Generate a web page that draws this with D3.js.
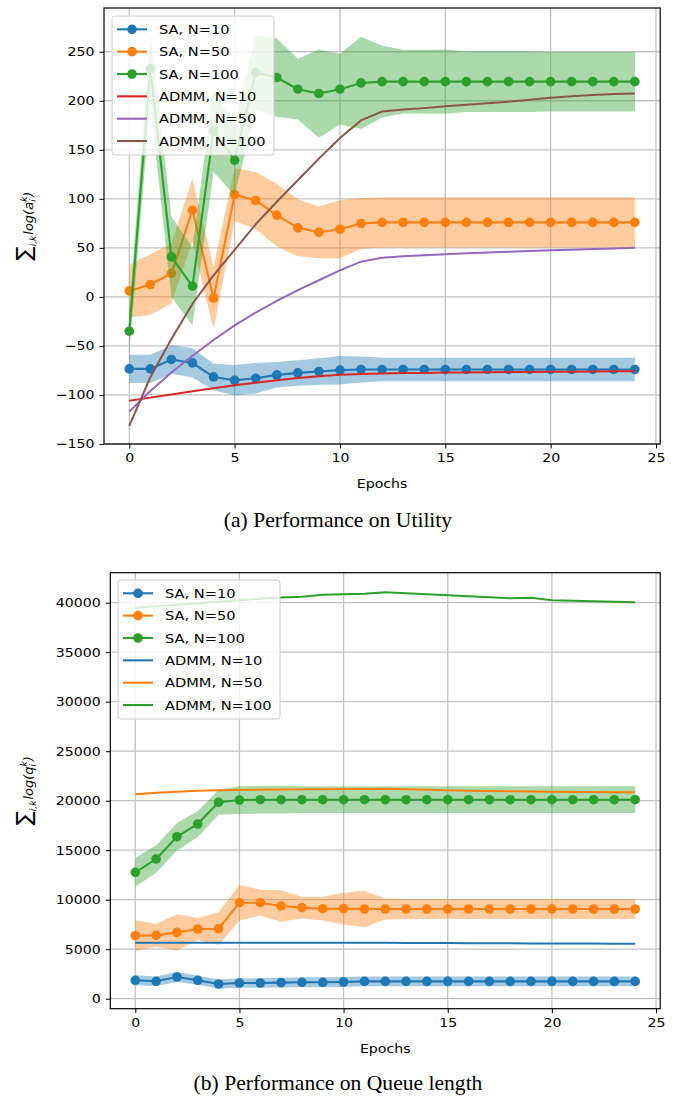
<!DOCTYPE html>
<html>
<head>
<meta charset="utf-8">
<script src="https://cdn.jsdelivr.net/npm/d3@7"></script>
<style>
  body { margin: 0; background: #fff; }
  svg { display: block; }
  .tick text { font-family: "DejaVu Sans", sans-serif; font-size: 12.3px; fill: #000; }
</style>
</head>
<body>
<svg id="chart" width="677" height="1096"></svg>
<script>
// epochs on the x axis
const epochs = [0,1,2,3,4,5,6,7,8,9,10,11,12,13,14,15,16,17,18,19,20,21,22,23,24];

// (a) utility
const utilSA10   = [-73.4,-73.4,-63.8,-67.3,-81.6,-85,-83,-79.5,-77.5,-76,-74.7,-74,-74,-74,-74,-74,-74,-74,-74,-74,-74,-74,-74,-74,-74];
const utilSA10Sd = [14.5,14.5,14.5,15,13.5,15.5,15.5,13,13,13.5,14.5,13.3,12,12,12,12,12,12,12,12,12,12,12,12,12];
const utilSA50   = [6.1,12.6,23.9,88.4,-1.3,104.4,98.3,83.3,70.4,66,69,74.8,76,76,76,76,76,76,76,76,76,76,76,76,76];
const utilSA50Sd = [27,31,30.6,32,32,27,29,32,29,26.5,29.5,26,25.5,25.5,25.5,25.5,25.5,25.5,25.5,25.5,25.5,25.5,25.5,25.5,25.5];
const utilSA100   = [-35,232.8,40.8,10.9,169.3,139.4,228.8,223.7,211.8,207.4,211.8,218.2,219.5,219.5,219.5,219.5,219.5,219.5,219.5,219.5,219.5,219.5,219.5,219.5,219.5];
const utilSA100Sd = [22,36,41,40,42,36,38,40,31,45,36,47,36.5,32.5,32.5,32.7,31,31,31,31,30.5,30.5,30.5,30.5,30.5];
const utilADMM10  = [-106,-102.7,-99.5,-96.3,-93.2,-90.2,-87.5,-85,-82.8,-81,-79.5,-78.5,-78,-77.7,-77.5,-77.2,-77,-76.8,-76.7,-76.5,-76.4,-76.2,-76.1,-75.9,-75.8];
const utilADMM50  = [-117,-96,-77,-60,-44,-29,-16,-4,7,17,27,36,40,41.5,42.5,43.5,44.5,45.3,46,46.8,47.5,48.2,48.8,49.4,50];
const utilADMM100 = [-131.5,-82,-43,-7,22,48,74,97,119,141,162,180,189,191,192.5,194.4,196,197.5,199,201,203,204.5,206,207,207.5];
const utilTicks = [-150,-100,-50,0,50,100,150,200,250];

// (b) queue length
const queueSA10   = [1858,1757,2192,1858,1485,1586,1586,1620,1655,1655,1687,1750,1750,1750,1750,1750,1750,1750,1750,1750,1750,1750,1750,1750,1750];
const queueSA10Sd = [500,480,500,450,450,480,480,500,500,500,500,500,500,500,500,500,500,500,500,500,500,500,500,500,500];
const queueSA50   = [6363,6397,6700,7040,7070,9696,9696,9363,9191,9090,9090,9060,9060,9060,9060,9060,9060,9060,9060,9060,9060,9060,9060,9060,9060];
const queueSA50Sd = [1550,1150,1830,1100,1650,1800,1300,1580,1100,1200,1600,1850,1050,1000,1000,1000,1000,1000,1000,1000,1000,1000,1000,1000,1000];
const queueSA100   = [12766,14110,16362,17645,19836,20069,20100,20100,20100,20100,20100,20100,20100,20100,20100,20100,20100,20100,20100,20100,20100,20100,20100,20100,20100];
const queueSA100Sd = [1450,1380,1380,1300,1260,1400,1400,1400,1350,1350,1350,1350,1350,1350,1350,1350,1350,1350,1350,1350,1350,1350,1350,1350,1350];
const queueADMM10  = [5650,5650,5650,5650,5650,5650,5650,5650,5650,5650,5650,5650,5640,5630,5620,5620,5610,5600,5590,5580,5580,5570,5570,5560,5560];
const queueADMM50  = [20650,20800,20900,21000,21050,21080,21100,21120,21150,21160,21170,21180,21200,21150,21100,21050,21000,20980,20950,20920,20900,20880,20870,20860,20850];
const queueADMM100 = [39500,39650,39800,39950,40100,40250,40400,40520,40600,40800,40850,40900,41050,40950,40850,40750,40650,40550,40450,40500,40250,40200,40150,40100,40050];
const queueTicks = [0,5000,10000,15000,20000,25000,30000,35000,40000];

const xTicks = [0,5,10,15,20,25];

const C = {blue:'#1f77b4', orange:'#ff7f0e', green:'#2ca02c', red:'#d62728', purple:'#9467bd', brown:'#8c564b'};
const SANS = '"DejaVu Sans", sans-serif';
const STRETCH = 1.15; // reference text is drawn wider than DejaVu

const svg = d3.select('#chart');

// move x/y of an axis label into a transform so it can be widened
function widen(sel) {
  sel.each(function() {
    const t = d3.select(this);
    const x = +t.attr('x') || 0;
    t.attr('x', 0).attr('transform', `translate(${x},0) scale(${STRETCH},1)`);
  });
}

function drawPanel(p) {
  const x = d3.scaleLinear().domain([-1.2, 25.2]).range([p.left, p.right]);
  const y = d3.scaleLinear().domain(p.yDomain).range([p.bottom, p.top]);
  const g = svg.append('g');

  // grid
  g.append('g').selectAll('line').data(xTicks).join('line')
    .attr('x1', d => x(d)).attr('x2', d => x(d))
    .attr('y1', p.top).attr('y2', p.bottom)
    .attr('stroke', '#c4c4c4').attr('stroke-width', 1.3);
  g.append('g').selectAll('line').data(p.yTicks).join('line')
    .attr('x1', p.left).attr('x2', p.right)
    .attr('y1', d => y(d)).attr('y2', d => y(d))
    .attr('stroke', '#c4c4c4').attr('stroke-width', 1.3);

  const line = d3.line().x((d, i) => x(epochs[i])).y(d => y(d));
  const area = d3.area()
    .x((d, i) => x(epochs[i]))
    .y0(d => y(d[0] - d[1]))
    .y1(d => y(d[0] + d[1]));

  p.sa.forEach(s => {
    g.append('path')
      .datum(s.mean.map((m, i) => [m, s.sd[i]]))
      .attr('d', area)
      .attr('fill', s.color).attr('fill-opacity', 0.4);
    g.append('path').datum(s.mean).attr('d', line)
      .attr('fill', 'none').attr('stroke', s.color).attr('stroke-width', 2.1);
    g.append('g').selectAll('circle').data(s.mean).join('circle')
      .attr('cx', (d, i) => x(epochs[i])).attr('cy', d => y(d))
      .attr('r', 4.8).attr('fill', s.color);
  });
  p.admm.forEach(s => {
    g.append('path').datum(s.values).attr('d', line)
      .attr('fill', 'none').attr('stroke', s.color).attr('stroke-width', 2);
  });

  // axes
  g.append('g').attr('transform', `translate(0,${p.bottom})`)
    .call(d3.axisBottom(x).tickValues(xTicks).tickSize(4.5).tickPadding(5))
    .call(a => a.select('.domain').remove())
    .call(a => a.selectAll('text').call(widen));
  g.append('g').attr('transform', `translate(${p.left},0)`)
    .call(d3.axisLeft(y).tickValues(p.yTicks).tickSize(4.5).tickPadding(5)
      .tickFormat(d => d < 0 ? '\u2212' + Math.abs(d) : String(d)))
    .call(a => a.select('.domain').remove())
    .call(a => a.selectAll('text').call(widen));
  g.append('rect')
    .attr('x', p.left).attr('y', p.top)
    .attr('width', p.right - p.left).attr('height', p.bottom - p.top)
    .attr('fill', 'none').attr('stroke', '#000').attr('stroke-width', 1.2);

  // x label
  g.append('text')
    .attr('transform', `translate(${(p.left + p.right) / 2},${p.bottom + 44}) scale(${STRETCH},1)`)
    .attr('text-anchor', 'middle')
    .style('font-family', SANS).style('font-size', '12.3px')
    .text('Epochs');

  // y label: sum_{i,k} log(v_i^k)
  const yl = g.append('text')
    .attr('transform', `translate(31,${(p.top + p.bottom) / 2}) rotate(-90)`)
    .attr('text-anchor', 'middle')
    .style('font-family', SANS);
  yl.append('tspan').style('font-size', '21px').text('\u2211');
  yl.append('tspan').style('font-size', '9px').style('font-style', 'italic').attr('dy', 5).text('i,k');
  yl.append('tspan').style('font-size', '13px').style('font-style', 'italic').attr('dy', -3).attr('dx', 1).text('log(' + p.sym);
  yl.append('tspan').style('font-size', '9px').style('font-style', 'italic').attr('dy', 3).text('i');
  yl.append('tspan').style('font-size', '9px').style('font-style', 'italic').attr('dy', -9).attr('dx', -2.5).text('k');
  yl.append('tspan').style('font-size', '13px').style('font-style', 'italic').attr('dy', 6).text(')');

  // legend
  const lg = g.append('g');
  lg.append('rect').attr('x', p.legX).attr('y', p.legY).attr('width', 162).attr('height', 139)
    .attr('rx', 3).attr('fill', '#fff').attr('fill-opacity', 0.8)
    .attr('stroke', '#cccccc').attr('stroke-width', 1);
  const items = p.sa.map(s => ({label: s.label, color: s.color, marker: true}))
    .concat(p.admm.map(s => ({label: s.label, color: s.color, marker: false})));
  items.forEach((it, i) => {
    const cy = p.legY + 13.3 + i * 22.35;
    lg.append('line').attr('x1', p.legX + 5).attr('x2', p.legX + 35)
      .attr('y1', cy).attr('y2', cy).attr('stroke', it.color).attr('stroke-width', 2.1);
    if (it.marker) lg.append('circle').attr('cx', p.legX + 20).attr('cy', cy).attr('r', 4.8).attr('fill', it.color);
    lg.append('text')
      .attr('transform', `translate(${p.legX + 47},${cy + 4.6}) scale(${STRETCH},1)`)
      .style('font-family', SANS).style('font-size', '12.7px')
      .text(it.label);
  });

  // caption
  svg.append('text')
    .attr('transform', `translate(338,${p.captionY}) scale(1.08,1)`)
    .attr('text-anchor', 'middle')
    .style('font-family', '"Liberation Serif", "Times New Roman", serif').style('font-size', '20px')
    .text(p.caption);
}

drawPanel({
  left: 104, right: 660.2, top: 8, bottom: 444, yDomain: [-150, 294.6], yTicks: utilTicks,
  sym: 'a',
  sa: [
    {label: 'SA, N=10', color: C.blue, mean: utilSA10, sd: utilSA10Sd},
    {label: 'SA, N=50', color: C.orange, mean: utilSA50, sd: utilSA50Sd},
    {label: 'SA, N=100', color: C.green, mean: utilSA100, sd: utilSA100Sd}
  ],
  admm: [
    {label: 'ADMM, N=10', color: C.red, values: utilADMM10},
    {label: 'ADMM, N=50', color: C.purple, values: utilADMM50},
    {label: 'ADMM, N=100', color: C.brown, values: utilADMM100}
  ],
  legX: 112, legY: 16, captionY: 527, caption: '(a) Performance on Utility'
});

drawPanel({
  left: 110.3, right: 660.2, top: 572.7, bottom: 1008.7, yDomain: [-1010, 43030], yTicks: queueTicks,
  sym: 'q',
  sa: [
    {label: 'SA, N=10', color: C.blue, mean: queueSA10, sd: queueSA10Sd},
    {label: 'SA, N=50', color: C.orange, mean: queueSA50, sd: queueSA50Sd},
    {label: 'SA, N=100', color: C.green, mean: queueSA100, sd: queueSA100Sd}
  ],
  admm: [
    {label: 'ADMM, N=10', color: C.blue, values: queueADMM10},
    {label: 'ADMM, N=50', color: C.orange, values: queueADMM50},
    {label: 'ADMM, N=100', color: C.green, values: queueADMM100}
  ],
  legX: 118, legY: 580, captionY: 1090, caption: '(b) Performance on Queue length'
});
</script>
</body>
</html>
